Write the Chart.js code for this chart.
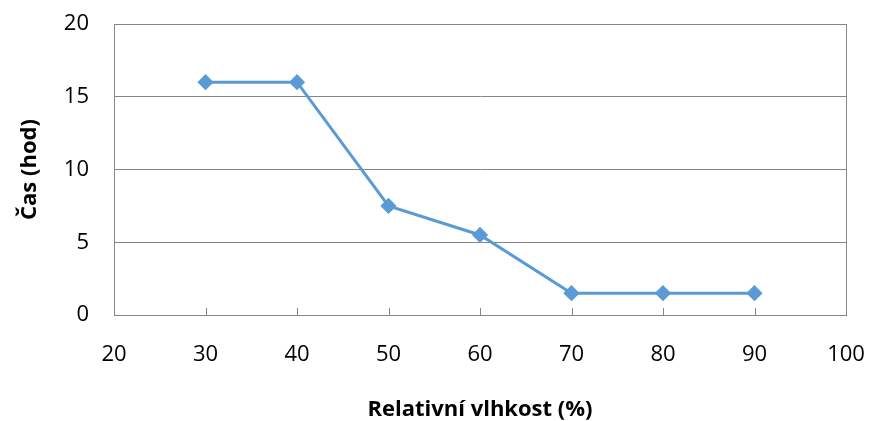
<!DOCTYPE html>
<html>
<head>
<meta charset="utf-8">
<script src="https://cdn.jsdelivr.net/npm/chart.js@4/dist/chart.umd.min.js"></script>
<style>
  html, body { margin: 0; padding: 0; background: #fff; }
  #wrap { width: 869px; height: 421px; }
</style>
</head>
<body>
<div id="wrap"><canvas id="c" width="869" height="421"></canvas></div>
<script>
// ─── data ───
const humidity = [30, 40, 50, 60, 70, 80, 90];
const hours    = [16, 16, 7.5, 5.5, 1.5, 1.5, 1.5];
const xTicks   = [20, 30, 40, 50, 60, 70, 80, 90, 100];
const yTicks   = [0, 5, 10, 15, 20];

const GRID = '#868686';
const BLUE = '#5B9BD5';
const FONT = 'Open Sans, Liberation Sans, sans-serif';

// inward tick marks on the x axis, like the original
const innerTicks = {
  id: 'innerTicks',
  afterDraw(chart) {
    const { ctx, scales: { x }, chartArea } = chart;
    ctx.save();
    ctx.strokeStyle = GRID;
    ctx.lineWidth = 1;
    xTicks.forEach(v => {
      const px = Math.round(x.getPixelForValue(v)) + 0.5;
      ctx.beginPath();
      ctx.moveTo(px, chartArea.bottom);
      ctx.lineTo(px, chartArea.bottom - 7);
      ctx.stroke();
    });
    ctx.restore();
  }
};

new Chart(document.getElementById('c'), {
  type: 'scatter',
  data: {
    datasets: [{
      data: humidity.map((h, i) => ({ x: h, y: hours[i] })),
      showLine: true,
      borderColor: BLUE,
      backgroundColor: BLUE,
      borderWidth: 3,
      pointStyle: 'rectRot',
      pointRadius: 6,
      pointHoverRadius: 6,
      tension: 0
    }]
  },
  options: {
    responsive: false,
    animation: false,
    layout: { padding: { top: 24, right: 23, left: 0, bottom: 0 } },
    plugins: { legend: { display: false }, tooltip: { enabled: false } },
    scales: {
      x: {
        type: 'linear',
        min: 20, max: 100,
        afterBuildTicks: s => { s.ticks = xTicks.map(v => ({ value: v })); },
        afterFit: s => { s.height = 106; s.paddingLeft = 0; s.paddingRight = 0; },
        grid: { display: false, drawTicks: false },
        border: { display: true, color: GRID, width: 1 },
        ticks: { padding: 27, color: '#000', font: { family: FONT, size: 22 } },
        title: {
          display: true,
          text: 'Relativní vlhkost (%)',
          color: '#000',
          font: { family: FONT, size: 22, weight: 'bold', lineHeight: 1 },
          padding: { top: 0, bottom: 0 }
        }
      },
      y: {
        min: 0, max: 20,
        afterBuildTicks: s => { s.ticks = yTicks.map(v => ({ value: v })); },
        afterFit: s => { s.width = 114; s.paddingTop = 0; s.paddingBottom = 0; },
        grid: { color: GRID, lineWidth: 1, drawTicks: false },
        border: { display: true, color: GRID, width: 1 },
        ticks: { padding: 25, color: '#000', font: { family: FONT, size: 22 } },
        title: {
          display: true,
          text: 'Čas (hod)',
          color: '#000',
          font: { family: FONT, size: 22, weight: 'bold', lineHeight: 1 },
          padding: { top: 19, bottom: 0 }
        }
      }
    }
  },
  plugins: [innerTicks, {
    id: 'frame',
    afterDraw(chart) {
      const { ctx, chartArea: a } = chart;
      ctx.save();
      ctx.strokeStyle = GRID;
      ctx.lineWidth = 1;
      ctx.strokeRect(Math.round(a.left) + 0.5, Math.round(a.top) + 0.5,
                     Math.round(a.right - a.left), Math.round(a.bottom - a.top));
      ctx.restore();
    }
  }]
});
</script>
</body>
</html>
